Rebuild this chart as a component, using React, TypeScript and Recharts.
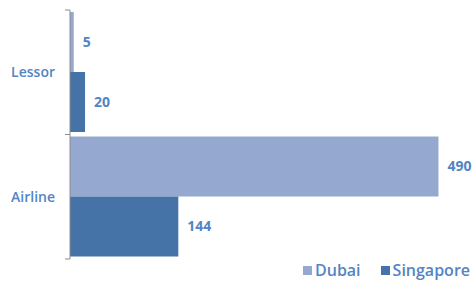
import { Bar, BarChart, LabelList, Legend, XAxis, YAxis } from "recharts";

const categorias = ["Lessor", "Airline"];
const dubai = [5, 490];
const singapore = [20, 144];

const series = [
  { key: "dubai", nome: "Dubai", cor: "#95A9D0", valores: dubai },
  { key: "singapore", nome: "Singapore", cor: "#4572A7", valores: singapore },
];

const dados = categorias.map((c, i) => ({ cat: c, dubai: dubai[i], singapore: singapore[i] }));

const corTexto = "#5384C3";
const corEixo = "#8C8C8C";
const fonte = "'Open Sans', sans-serif";
const margemTick = 15;

function LegendaCustom() {
  return (
    <div style={{ display: "flex", justifyContent: "flex-end", gap: 20, fontFamily: fonte, fontSize: 16, fontWeight: 600, color: corTexto }}>
      {series.map((s) => (
        <span key={s.key} style={{ display: "flex", alignItems: "center", gap: 3 }}>
          <span style={{ width: 9, height: 9, background: s.cor, display: "inline-block" }} />
          {s.nome}
        </span>
      ))}
    </div>
  );
}

// rotulo da categoria no centro, marcas do eixo nas bordas da faixa
function TickCategoria(props: any) {
  const { x, y, payload, index } = props;
  const meia = payload.offset ?? 0;
  const xEixo = x + margemTick;
  return (
    <g>
      <line x1={xEixo - 5} x2={xEixo} y1={y - meia} y2={y - meia} stroke={corEixo} />
      {index === categorias.length - 1 && (
        <line x1={xEixo - 5} x2={xEixo} y1={y + meia} y2={y + meia} stroke={corEixo} />
      )}
      <text
        x={x}
        y={y}
        dy="0.35em"
        textAnchor="end"
        fill={corTexto}
        fontFamily={fonte}
        fontSize={14}
        fontWeight={600}
      >
        {payload.value}
      </text>
    </g>
  );
}

export default function App() {
  return (
    <div style={{ position: "absolute", left: 0, top: 0, background: "#fff" }}>
      <BarChart
        width={472}
        height={281}
        data={dados}
        layout="vertical"
        margin={{ top: 10, right: 26, bottom: 0, left: 0 }}
        barCategoryGap={2}
        barGap={0}
      >
        <XAxis type="number" domain={[0, 500]} hide />
        <YAxis
          dataKey="cat"
          type="category"
          width={70}
          stroke={corEixo}
          tickLine={false}
          tickSize={0}
          tickMargin={margemTick}
          tick={<TickCategoria />}
        />
        <Legend
          verticalAlign="bottom"
          align="right"
          content={<LegendaCustom />}
          wrapperStyle={{ right: 2, left: "auto", width: "auto" }}
        />
        {series.map((s) => (
          <Bar key={s.key} dataKey={s.key} name={s.nome} fill={s.cor} isAnimationActive={false}>
            <LabelList
              dataKey={s.key}
              position="right"
              offset={9}
              style={{ fill: corTexto, fontFamily: fonte, fontSize: 14, fontWeight: 700 }}
            />
          </Bar>
        ))}
      </BarChart>
    </div>
  );
}
